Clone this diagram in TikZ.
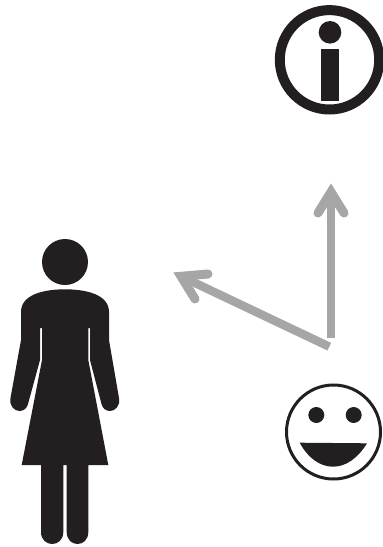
\documentclass[tikz,border=0pt]{standalone}
\definecolor{ink}{HTML}{231F20}
\definecolor{arrowgrey}{HTML}{A6A6A6}
\tikzset{
  solidink/.style={fill=ink,draw=none},
  ringink/.style={draw=ink,fill=none},
  shaft/.style={draw=arrowgrey,line width=8.5pt,line cap=butt},
  headstroke/.style={draw=arrowgrey,line width=9pt,line cap=round,line join=miter}
}
\begin{document}
\begin{tikzpicture}[x=1pt,y=-1pt]
\useasboundingbox (0,0) rectangle (383,547);
% woman
\fill[solidink] (65,262) circle (23);
\fill[solidink] (65,289.3)
  .. controls (85,289.3) and (109,294) .. (109,312)
  -- (109,340) -- (119,398)
  .. controls (120.5,406) and (115,411) .. (110,411)
  .. controls (105.5,411) and (102.5,408) .. (101.5,404)
  -- (90,360) -- (90,328) -- (88.3,328) -- (88.3,360)
  -- (108.3,465) -- (88.3,465) -- (88.3,532)
  .. controls (88.3,548) and (66.7,548) .. (66.7,532)
  -- (66.7,465) -- (63.3,465) -- (63.3,532)
  .. controls (63.3,548) and (41,548) .. (41,532)
  -- (41,465) -- (21.7,465) -- (42,360) -- (42,328) -- (40,328) -- (40,360)
  -- (28,404)
  .. controls (27,408) and (24,411) .. (19.5,411)
  .. controls (14.5,411) and (9,406) .. (10.5,398)
  -- (21,340) -- (21,312)
  .. controls (21,294) and (45,289.3) .. (65,289.3) -- cycle;
% information sign
\draw[ringink,line width=10pt] (329.5,59.8) circle (49.7);
\fill[solidink] (330,32.3) circle (11.3);
\fill[solidink] (320.7,49.3) rectangle (339,101);
% smiley
\draw[ringink,line width=3pt] (333.5,432) circle (47);
\fill[solidink] (316.3,415) circle (8);
\fill[solidink] (353.7,415) circle (8);
\fill[solidink] (299.7,442.7) -- (367,443.3)
  .. controls (358,458) and (346,466.7) .. (333,466.7)
  .. controls (320,466.7) and (308,458) .. (299.7,442.7) -- cycle;
% arrows
\coordinate (origin1) at (331,338.3);
\coordinate (tip1) at (331,192);
\coordinate (barbA1) at (318,213);
\coordinate (barbB1) at (344,213);
\coordinate (origin2) at (329.3,346.7);
\coordinate (tip2) at (181,276.3);
\coordinate (barbA2) at (208,274);
\coordinate (barbB2) at (195,299);
\draw[shaft] (origin1) -- (tip1);
\draw[headstroke] (barbA1) -- (tip1) -- (barbB1);
\draw[shaft] (origin2) -- (tip2);
\draw[headstroke] (barbA2) -- (tip2) -- (barbB2);
\end{tikzpicture}
\end{document}
